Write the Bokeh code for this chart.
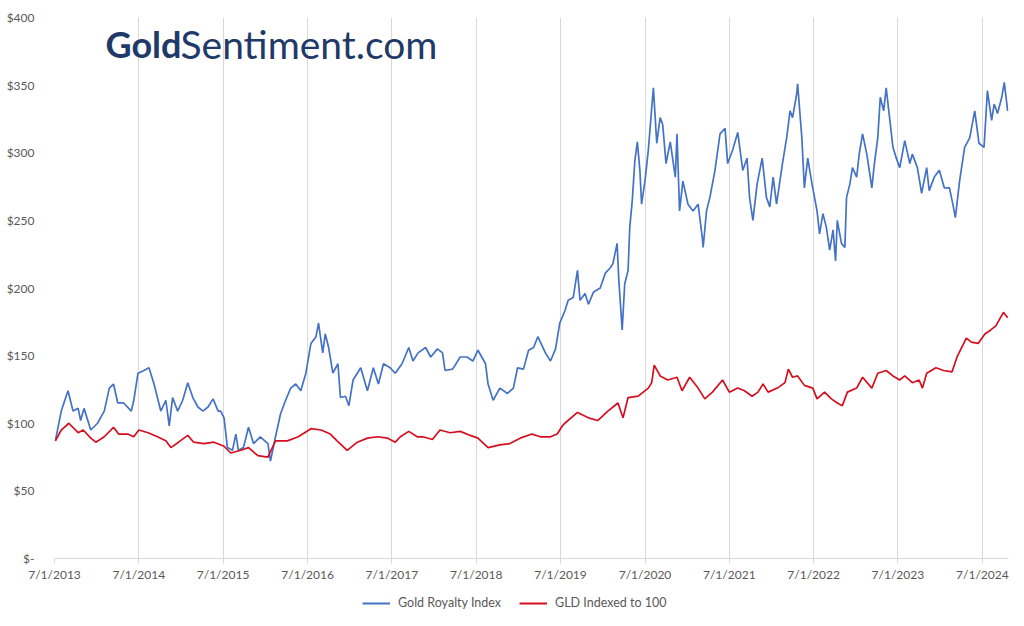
import pandas as pd
from bokeh.plotting import figure
from bokeh.layouts import column
from bokeh.models import (FixedTicker, CustomJSTickFormatter, Range1d, Legend,
                          LegendItem, Label)
from bokeh.embed import file_html
from bokeh.resources import INLINE

# ---- data (dates as decimal years, values in $) ----
gri_year = [
    2013.51, 2013.58, 2013.66, 2013.72, 2013.78, 2013.81, 2013.85, 2013.93, 2014.01, 2014.09,
    2014.15, 2014.20, 2014.25, 2014.32, 2014.41, 2014.44, 2014.49, 2014.56, 2014.62, 2014.68,
    2014.76, 2014.82, 2014.86, 2014.90, 2014.96, 2015.02, 2015.08, 2015.14, 2015.20, 2015.26,
    2015.32, 2015.38, 2015.44, 2015.47, 2015.51, 2015.55, 2015.61, 2015.65, 2015.68, 2015.74,
    2015.80, 2015.86, 2015.94, 2016.03, 2016.06, 2016.12, 2016.18, 2016.24, 2016.30, 2016.36,
    2016.42, 2016.48, 2016.54, 2016.60, 2016.63, 2016.68, 2016.71, 2016.75, 2016.80, 2016.86,
    2016.89, 2016.95, 2016.99, 2017.04, 2017.13, 2017.21, 2017.28, 2017.34, 2017.40, 2017.48,
    2017.54, 2017.62, 2017.70, 2017.75, 2017.81, 2017.90, 2017.96, 2018.04, 2018.10, 2018.13,
    2018.22, 2018.31, 2018.39, 2018.46, 2018.52, 2018.61, 2018.64, 2018.70, 2018.78, 2018.87,
    2018.94, 2018.99, 2019.06, 2019.12, 2019.18, 2019.23, 2019.32, 2019.38, 2019.44, 2019.49,
    2019.55, 2019.59, 2019.65, 2019.70, 2019.73, 2019.79, 2019.83, 2019.89, 2019.97, 2020.03,
    2020.09, 2020.12, 2020.17, 2020.19, 2020.23, 2020.26, 2020.30, 2020.32, 2020.35, 2020.38,
    2020.41, 2020.44, 2020.46, 2020.50, 2020.54, 2020.58, 2020.60, 2020.64, 2020.68, 2020.71,
    2020.75, 2020.80, 2020.86, 2020.88, 2020.91, 2020.95, 2021.01, 2021.07, 2021.13, 2021.18,
    2021.19, 2021.23, 2021.27, 2021.33, 2021.39, 2021.45, 2021.48, 2021.54, 2021.60, 2021.66,
    2021.71, 2021.74, 2021.78, 2021.83, 2021.89, 2021.94, 2021.98, 2022.02, 2022.06, 2022.10,
    2022.13, 2022.18, 2022.22, 2022.25, 2022.30, 2022.31, 2022.36, 2022.39, 2022.43, 2022.48,
    2022.54, 2022.57, 2022.61, 2022.65, 2022.69, 2022.73, 2022.76, 2022.78, 2022.83, 2022.87,
    2022.89, 2022.93, 2022.96, 2023.01, 2023.04, 2023.08, 2023.13, 2023.19, 2023.22, 2023.26,
    2023.29, 2023.33, 2023.36, 2023.40, 2023.44, 2023.48, 2023.52, 2023.58, 2023.64, 2023.67,
    2023.73, 2023.78, 2023.84, 2023.87, 2023.93, 2023.99, 2024.05, 2024.11, 2024.15, 2024.18,
    2024.23, 2024.29, 2024.35, 2024.41, 2024.46, 2024.52, 2024.56, 2024.61, 2024.64, 2024.68,
    2024.73, 2024.76, 2024.80,
]
gri_value = [
    87, 109, 124, 109, 111, 102, 111, 95, 100, 109,
    126, 129, 115, 115, 109, 117, 137, 139, 141, 129,
    109, 117, 98, 119, 109, 117, 130, 119, 112, 109,
    112, 118, 109, 109, 104, 82, 80, 92, 80, 82,
    97, 85, 90, 85, 72, 90, 107, 117, 126, 129,
    124, 137, 159, 164, 174, 152, 166, 156, 137, 144,
    119, 120, 113, 132, 141, 124, 141, 129, 144, 141,
    137, 144, 156, 146, 152, 156, 149, 155, 152, 139,
    140, 149, 149, 146, 154, 144, 129, 117, 126, 122,
    126, 141, 140, 154, 156, 164, 152, 146, 155, 174,
    183, 191, 193, 213, 191, 196, 188, 197, 200, 211,
    215, 218, 233, 206, 169, 203, 213, 245, 265, 294,
    308, 287, 262, 279, 302, 333, 348, 307, 326, 321,
    292, 308, 282, 314, 257, 279, 262, 257, 262, 237,
    230, 257, 267, 287, 314, 318, 292, 302, 315, 287,
    296, 267, 250, 277, 296, 267, 260, 282, 262, 279,
    292, 311, 331, 326, 344, 351, 311, 274, 296, 277,
    257, 240, 255, 245, 228, 243, 220, 250, 233, 230,
    267, 277, 289, 282, 299, 314, 299, 274, 292, 311,
    341, 331, 348, 326, 304, 296, 289, 309, 292, 299,
    289, 270, 289, 272, 282, 287, 274, 274, 262, 252,
    279, 304, 311, 331, 307, 304, 346, 324, 336, 329,
    341, 352, 331,
]

gld_year = [
    2013.51, 2013.58, 2013.67, 2013.78, 2013.84, 2013.93, 2013.99, 2014.09, 2014.20, 2014.26,
    2014.37, 2014.44, 2014.50, 2014.61, 2014.72, 2014.82, 2014.88, 2014.97, 2015.08, 2015.15,
    2015.27, 2015.39, 2015.51, 2015.59, 2015.71, 2015.80, 2015.91, 2016.03, 2016.12, 2016.26,
    2016.39, 2016.54, 2016.66, 2016.77, 2016.85, 2016.97, 2017.09, 2017.21, 2017.33, 2017.45,
    2017.54, 2017.60, 2017.70, 2017.80, 2017.87, 2017.98, 2018.07, 2018.19, 2018.31, 2018.43,
    2018.52, 2018.64, 2018.78, 2018.90, 2019.02, 2019.16, 2019.26, 2019.38, 2019.46, 2019.52,
    2019.55, 2019.70, 2019.83, 2019.94, 2020.06, 2020.18, 2020.24, 2020.30, 2020.42, 2020.54,
    2020.58, 2020.61, 2020.68, 2020.77, 2020.88, 2020.94, 2021.03, 2021.13, 2021.21, 2021.30,
    2021.42, 2021.50, 2021.60, 2021.68, 2021.77, 2021.84, 2021.90, 2021.96, 2022.07, 2022.16,
    2022.20, 2022.25, 2022.31, 2022.39, 2022.49, 2022.54, 2022.63, 2022.71, 2022.78, 2022.84,
    2022.90, 2023.01, 2023.08, 2023.19, 2023.26, 2023.36, 2023.44, 2023.52, 2023.58, 2023.67,
    2023.75, 2023.79, 2023.84, 2023.95, 2024.04, 2024.14, 2024.20, 2024.31, 2024.37, 2024.45,
    2024.53, 2024.60, 2024.66, 2024.75, 2024.80,
]
gld_value = [
    87, 95, 100, 93, 95, 89, 86, 90, 97, 92,
    92, 90, 95, 93, 90, 87, 82, 86, 91, 86,
    85, 86, 83, 78, 80, 82, 76, 75, 87, 87,
    90, 96, 95, 92, 87, 80, 86, 89, 90, 89,
    86, 90, 94, 90, 90, 88, 95, 93, 94, 91,
    89, 82, 84, 85, 89, 92, 90, 90, 92, 98,
    100, 108, 104, 102, 109, 115, 104, 119, 120, 126,
    130, 143, 135, 132, 134, 124, 134, 126, 118, 123,
    132, 123, 126, 124, 120, 123, 129, 123, 126, 130,
    140, 134, 135, 128, 126, 118, 123, 118, 115, 113,
    123, 126, 134, 126, 137, 139, 135, 132, 135, 130,
    132, 126, 137, 141, 139, 138, 149, 163, 160, 159,
    166, 169, 172, 182, 178,
]

tick_years = list(range(2013, 2025))          # 7/1 of each year
y_ticks = [0, 50, 100, 150, 200, 250, 300, 350, 400]
series_names = ["Gold Royalty Index", "GLD Indexed to 100"]
series_colors = ["#4472C4", "#D50F1F"]

BASE = pd.Timestamp("2013-07-01")


def to_dt(years):
    return [BASE + pd.Timedelta(days=(y - 2013.5) * 365.25) for y in years]


x_start = to_dt([2013.5])[0]
x_end = to_dt([2024.81])[0]

FONT = "Lato"
LABEL_COLOR = "#595959"

p = figure(width=1024, height=590, x_axis_type="datetime",
           output_backend="svg", toolbar_location=None,
           x_range=Range1d(x_start, x_end), y_range=Range1d(0, 400),
           min_border_left=54, min_border_right=16, min_border_top=17,
           min_border_bottom=32)
p.outline_line_color = None
p.background_fill_color = "white"
p.border_fill_color = "white"

p.line(to_dt(gri_year), gri_value, color=series_colors[0], line_width=1.7)
p.line(to_dt(gld_year), gld_value, color=series_colors[1], line_width=1.7)

# x axis
xticks = [pd.Timestamp(f"{y}-07-01").value / 1e6 for y in tick_years]
p.xaxis.ticker = FixedTicker(ticks=xticks)
p.xaxis.formatter = CustomJSTickFormatter(code="""
const d = new Date(tick);
return (d.getUTCMonth() + 1) + "/" + d.getUTCDate() + "/" + d.getUTCFullYear();
""")
p.xaxis.axis_line_color = "#D9D9D9"
p.xaxis.major_tick_line_color = "#D9D9D9"
p.xaxis.major_tick_out = 5
p.xaxis.major_tick_in = 0
p.xaxis.minor_tick_line_color = None
p.xaxis.major_label_text_color = LABEL_COLOR
p.xaxis.major_label_text_font = FONT
p.xaxis.major_label_text_font_size = "12px"
p.xaxis.major_label_standoff = 3

# y axis
p.yaxis.ticker = FixedTicker(ticks=y_ticks)
p.yaxis.formatter = CustomJSTickFormatter(code="""
return tick == 0 ? "$-" : "$" + tick.toFixed(0);
""")
p.yaxis.axis_line_color = None
p.yaxis.major_tick_line_color = None
p.yaxis.minor_tick_line_color = None
p.yaxis.major_label_text_color = LABEL_COLOR
p.yaxis.major_label_text_font = FONT
p.yaxis.major_label_text_font_size = "12px"
p.yaxis.major_label_standoff = 14

p.xgrid.grid_line_color = "#D9D9D9"
p.xgrid.grid_line_width = 1
p.ygrid.grid_line_color = None

# title (brand)
TITLE_COLOR = "#1F3A68"
p.add_layout(Label(x=51, y=515, x_units="screen", y_units="screen",
                   text="Gold", text_font=FONT, text_font_style="bold",
                   text_font_size="36px", text_color=TITLE_COLOR,
                   text_baseline="alphabetic"))
p.add_layout(Label(x=126, y=515, x_units="screen", y_units="screen",
                   text="Sentiment.com", text_font=FONT,
                   text_font_size="39px", text_color=TITLE_COLOR,
                   text_baseline="alphabetic"))

# legend strip below the chart (single-point lines: nothing drawn, only legend keys)
leg = figure(width=1024, height=26, output_backend="svg", toolbar_location=None,
             x_axis_location=None, y_axis_location=None,
             x_range=Range1d(0, 1), y_range=Range1d(0, 1),
             min_border_left=0, min_border_right=0, min_border_top=0,
             min_border_bottom=0)
leg.outline_line_color = None
leg.xgrid.visible = False
leg.ygrid.visible = False
l1 = leg.line([gri_year[0]], [gri_value[0]], color=series_colors[0], line_width=2)
l2 = leg.line([gld_year[0]], [gld_value[0]], color=series_colors[1], line_width=2)
legend = Legend(items=[LegendItem(label=series_names[0], renderers=[l1]),
                       LegendItem(label=series_names[1], renderers=[l2])],
                orientation="horizontal", location=(308, 6),
                border_line_color=None, background_fill_alpha=0,
                label_text_font=FONT, label_text_font_size="12.5px",
                label_text_color=LABEL_COLOR, glyph_width=28, glyph_height=12,
                spacing=18, padding=0, margin=0, label_standoff=8,
                label_height=12)
leg.add_layout(legend, "center")

layout = column(p, leg, spacing=0)
open("out.html", "w").write(file_html(layout, INLINE))
